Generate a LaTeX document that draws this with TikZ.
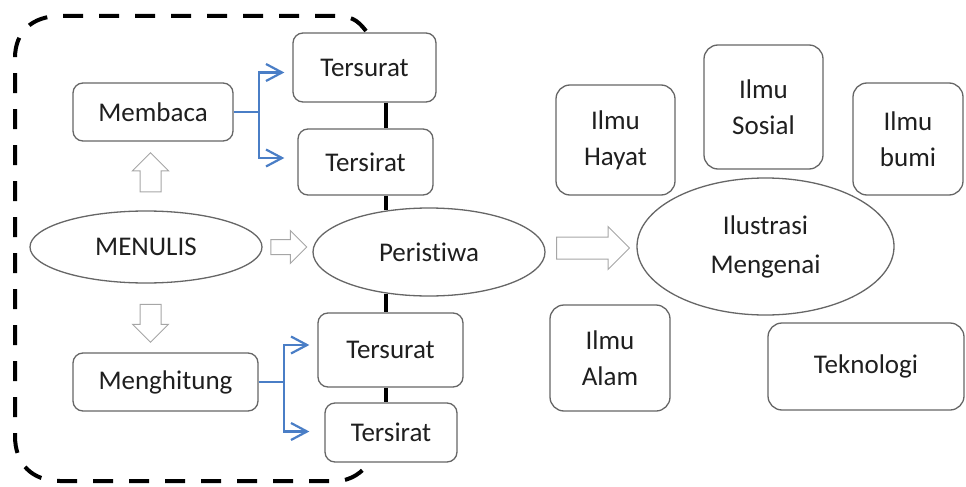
\documentclass[tikz,border=0pt]{standalone}
\usepackage{fontspec}
\setmainfont{Carlito}[Ligatures=NoCommon]
\usetikzlibrary{shapes.geometric,shapes.arrows,arrows.meta}
\definecolor{rim}{HTML}{666666}
\definecolor{pale}{HTML}{A6A6A6}
\definecolor{link}{HTML}{4A7EC6}
\definecolor{ink}{HTML}{1F1F1F}

\begin{document}
\begin{tikzpicture}[x=1pt,y=-1pt,
>={Straight Barb[length=16pt,width=17pt]},
font=\fontsize{27}{36}\selectfont, text=ink,
box/.style={draw=rim,line width=1.3pt,rounded corners=10pt,fill=white,
  align=center,inner sep=0pt},
tallbox/.style={box,rounded corners=14pt},
oval/.style={ellipse,draw=rim,line width=1.3pt,fill=white,align=center,inner sep=0pt},
fat/.style={single arrow,draw=pale,line width=1pt,fill=white,
  single arrow tip angle=90},
flow/.style={->,draw=link,line width=2.2pt},
spine/.style={line width=4pt,line cap=butt},
fence/.style={line width=4pt,dash pattern=on 20pt off 16pt}]
\useasboundingbox (0,0) rectangle (966,487);

% dashed frame
\draw[fence] (366,31) .. controls (357,19) and (350,16) .. (335,16) -- (60,16)
  .. controls (32,16) and (15,32) .. (15,58) -- (15,436)
  .. controls (15,464) and (32,481) .. (60,481) -- (335,481)
  .. controls (352,481) and (362,472) .. (370,462);

% left part
\node[box,minimum width=160pt,minimum height=58pt] (mem) at (153,112) {Membaca};
\node[box,minimum width=143pt,minimum height=69pt] (ts1) at (364.5,67.5) {Tersurat};
\node[box,minimum width=135pt,minimum height=66pt] (ti1) at (365.5,162) {Tersirat};
\node[oval,minimum width=232pt,minimum height=72pt] (men) at (146,247) {MENULIS};
\node[oval,minimum width=232pt,minimum height=88pt] (per) at (429,252) {Peristiwa};
\node[box,minimum width=145pt,minimum height=74pt] (ts2) at (390.5,350) {Tersurat};
\node[box,minimum width=132pt,minimum height=59pt] (ti2) at (391,432.5) {Tersirat};
\node[box,minimum width=185pt,minimum height=58pt] (mh) at (165.5,382) {Menghitung};

% right part
\node[tallbox,minimum width=119pt,minimum height=110pt] (hayat) at (615.5,140) {Ilmu\\Hayat};
\node[tallbox,minimum width=119pt,minimum height=124pt] (sosial) at (763.5,107) {Ilmu\\Sosial};
\node[tallbox,minimum width=110pt,minimum height=112pt] (bumi) at (908,139) {Ilmu\\bumi};
\node[oval,minimum width=257pt,minimum height=137pt,font=\fontsize{27}{39}\selectfont]
  (ilu) at (765.5,246.5) {Ilustrasi\\Mengenai};
\node[tallbox,minimum width=120pt,minimum height=106pt] (alam) at (610,358) {Ilmu\\Alam};
\node[tallbox,minimum width=196pt,minimum height=87pt] (tek) at (866,366.5) {Teknologi};

% hollow arrows
\node[fat,rotate=90,inner sep=10pt,single arrow head extend=7.5pt,
  minimum height=39pt] (up) at (150.5,177.5) {};
\node[fat,rotate=-90,inner sep=10pt,single arrow head extend=7.5pt,
  minimum height=38pt] (down) at (150.5,318) {};
\node[fat,inner sep=7pt,single arrow head extend=9pt,
  minimum height=36pt] (go1) at (285,247) {};
\node[fat,inner sep=10.5pt,single arrow head extend=10.5pt,
  minimum height=73pt] (go2) at (587.5,248) {};

% black spine
\coordinate (sx) at (386,0);
\draw[spine] (ts1.south -| sx) -- (ti1.north -| sx);
\draw[spine] (ti1.south -| sx) -- (sx |- per.136);
\draw[spine] (sx |- per.224) -- (ts2.north -| sx);
\draw[spine] (ts2.south -| sx) -- (ti2.north -| sx);

% blue branches
\draw[flow] (mem.east) -- ++(25,0) coordinate (j1) |- ([xshift=-8pt,yshift=-5pt]ts1.west);
\draw[flow] (j1) |- ([xshift=-13pt,yshift=4pt]ti1.west);
\draw[flow] (mh.east) -- ++(25,0) coordinate (j2) |- ([xshift=-8pt,yshift=5pt]ts2.west);
\draw[flow] (j2) |- ([xshift=-15pt,yshift=1pt]ti2.west);
\end{tikzpicture}
\end{document}
